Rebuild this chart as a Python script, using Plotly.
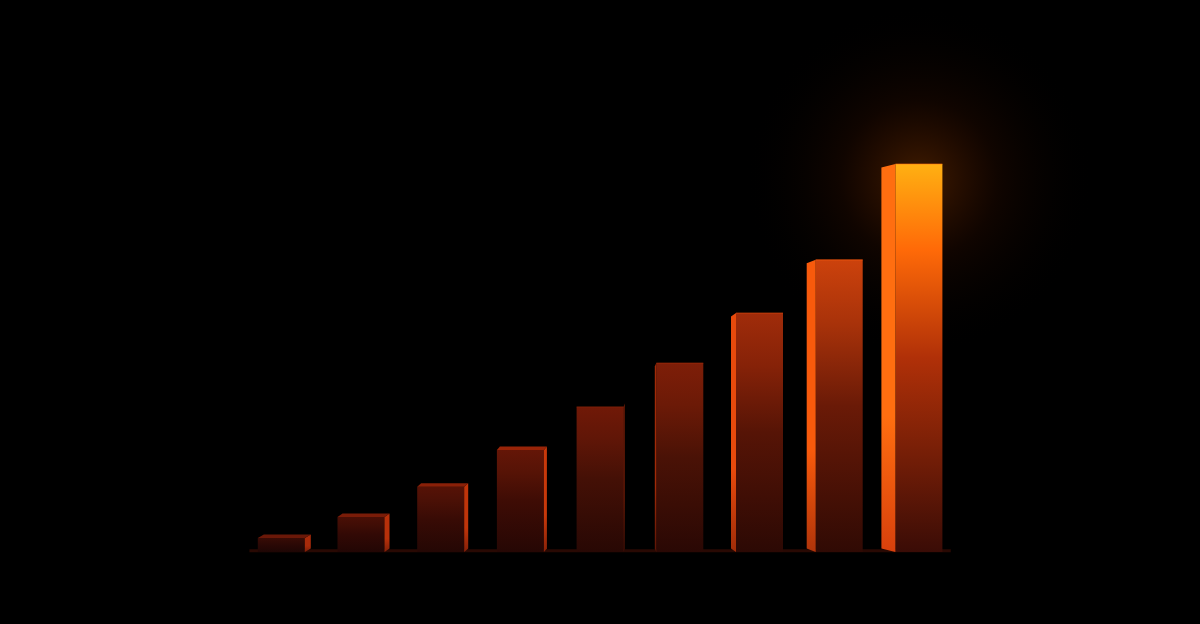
import numpy as np
import plotly.graph_objects as go

# ---- data (relative to tallest bar = 100) ----
categories = ["1", "2", "3", "4", "5", "6", "7", "8", "9"]
values = [3.6, 9.0, 16.8, 26.3, 37.4, 48.7, 61.6, 75.3, 100.0]
top_colors = ["#3a0c06", "#4a0f06", "#561206", "#641607", "#701907", "#7e1e08", "#a02c0a", "#cc420c", "#ffb012"]
upper_colors = ["#320a05", "#400d05", "#4a1006", "#561306", "#601607", "#6c1a07", "#862208", "#a8320a", "#ff6a08"]
mid_colors = ["#2a0805", "#320905", "#380b05", "#3e0c05", "#441006", "#4a1206", "#561406", "#6a1a07", "#b03008"]
bottom_colors = ["#1e0604", "#220604", "#240704", "#260704", "#280804", "#2a0804", "#2c0904", "#300a04", "#3a0c06"]
side_colors = ["#a82a0a", "#b8300a", "#c0340a", "#c8380a", "#8a2208", "#a02a08", "#e84a0c", "#f85a0c", "#ff6e10"]
side_bottom_colors = ["#7a1e08", "#801f08", "#862008", "#8a2208", "#501206", "#5a1406", "#a02c08", "#b0340a", "#d8400c"]
top_face_colors = ["#6a1808", "#7a1c08", "#8a2008", "#982408", None, None, None, None, None]
side_pos = ["right", "right", "right", "right", "right", "left", "left", "left", "left"]
side_px = [6, 5, 4, 3, 1, 1.5, 5, 9, 14]

PX = 79.7          # pixels per category step
PY = 388 / 100.0   # pixels per value unit
W = 47 / PX
fig = go.Figure()

# glow behind tallest bar
gx, gy = 8, values[-1] - 4
t = np.linspace(0, 2 * np.pi, 80)
rx, ry = 2.2, 2.2 * PX / PY
fig.add_trace(go.Scatter(
    x=gx + rx * np.cos(t), y=gy + ry * np.sin(t), mode="lines", line=dict(width=0),
    fill="toself", fillgradient=dict(type="radial", colorscale=[[0, "rgba(255,110,0,0.26)"], [0.45, "rgba(200,60,0,0.08)"], [1, "rgba(0,0,0,0)"]]),
    hoverinfo="skip", showlegend=False))

# baseline reflection
fig.add_trace(go.Scatter(x=[-0.4, 8.4], y=[0.3, 0.3], mode="lines",
                         line=dict(color="rgba(90,20,6,0.45)", width=3), hoverinfo="skip", showlegend=False))

for i, v in enumerate(values):
    x0, x1 = i - W / 2, i + W / 2
    fig.add_trace(go.Scatter(
        x=[x0, x1, x1, x0, x0], y=[0, 0, v, v, 0], mode="lines", line=dict(width=0),
        fill="toself",
        fillgradient=dict(type="vertical", colorscale=[[0, bottom_colors[i]], [0.5, mid_colors[i]],
                                                       [0.78, upper_colors[i]], [1, top_colors[i]]]),
        hoverinfo="skip", showlegend=False))
    sw = side_px[i] / PX
    d = 3.5 / PY
    if side_pos[i] == "right":
        xs = [x1, x1 + sw, x1 + sw, x1, x1]
        ys = [0, d, v + d, v, 0]
    else:
        xs = [x0, x0 - sw, x0 - sw, x0, x0]
        ys = [0, d, v - d, v, 0]
    fig.add_trace(go.Scatter(
        x=xs, y=ys, mode="lines", line=dict(width=0), fill="toself",
        fillgradient=dict(type="vertical", colorscale=[[0, side_bottom_colors[i]], [0.35, side_colors[i]], [1, side_colors[i]]]),
        hoverinfo="skip", showlegend=False))
    if top_face_colors[i] is not None:
        fig.add_trace(go.Scatter(
            x=[x0, x1, x1 + sw, x0 + sw, x0], y=[v, v, v + d, v + d, v], mode="lines",
            line=dict(width=0), fill="toself", fillcolor=top_face_colors[i],
            hoverinfo="skip", showlegend=False))
    else:
        fig.add_trace(go.Scatter(x=[x0, x1], y=[v, v], mode="lines",
                                 line=dict(color=side_colors[i], width=1.2), opacity=0.6,
                                 hoverinfo="skip", showlegend=False))

fig.update_layout(
    width=1200, height=624, margin=dict(l=0, r=0, t=0, b=0),
    paper_bgcolor="#000000", plot_bgcolor="#000000",
    xaxis=dict(range=[-281.3 / PX, (1200 - 281.3) / PX], visible=False, fixedrange=True),
    yaxis=dict(range=[-72 / PY, 552 / PY], visible=False, fixedrange=True),
    showlegend=False,
)
fig.write_html("out.html", config={"displayModeBar": False},
               post_script="document.body.style.margin='0';document.body.style.background='#000';")
